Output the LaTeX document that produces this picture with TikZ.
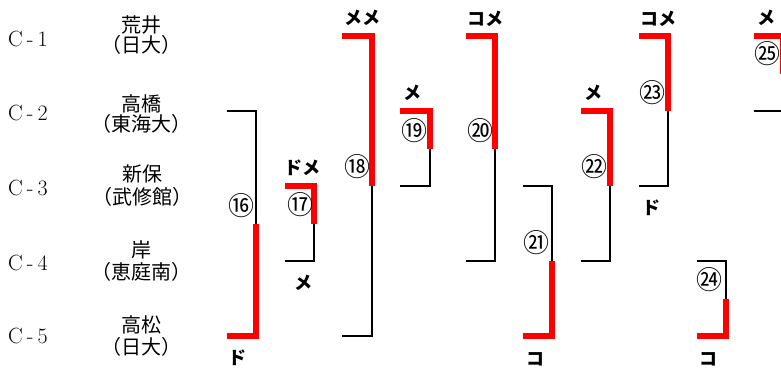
\documentclass[tikz,border=0pt]{standalone}
\usepackage{fontspec}
\newfontfamily\jp{Noto Sans CJK JP}
\newfontfamily\lmr{Latin Modern Roman}
\tikzset{
  win/.style={draw=red, line width=5.5pt, line join=miter, line cap=butt},
  lose/.style={draw=black, line width=1.8pt, line join=miter, line cap=butt},
  pname/.style={inner sep=0pt, font=\jp\fontsize{20}{22}\selectfont},
  clab/.style={inner sep=0pt, anchor=west, font=\lmr\fontsize{22}{24}\selectfont},
  num/.style={inner sep=0pt, font=\jp\fontsize{26}{28}\selectfont},
  tech/.style={inner sep=0pt, font=\jp\bfseries\fontsize{18}{20}\selectfont},
}
\newcommand{\bkt}[5]{%
  \coordinate (#1tl) at (#2,#4);
  \coordinate (#1tr) at (#3,#4);
  \coordinate (#1bl) at (#2,#5);
  \coordinate (#1br) at (#3,#5);
  \coordinate (#1m) at (#3,{(#4+#5)/2});
}
\begin{document}
\begin{tikzpicture}[x=1pt,y=-1pt]
\useasboundingbox (0,0) rectangle (781,368);
\clip (0,0) rectangle (781,368);
% player labels
\node[clab] (c1) at (8,39) {C\kern4pt-\kern4pt1};
\node[clab] (c2) at (8,113) {C\kern4pt-\kern4pt2};
\node[clab] (c3) at (8,188) {C\kern4pt-\kern4pt3};
\node[clab] (c4) at (8,263) {C\kern4pt-\kern4pt4};
\node[clab] (c5) at (8,336) {C\kern4pt-\kern4pt5};
\node[pname] (p1a) at (141,25) {荒井};
\node[pname] (p1b) at (141,45) {（日大）};
\node[pname] (p2a) at (141,104) {高橋};
\node[pname] (p2b) at (141,124) {（東海大）};
\node[pname] (p3a) at (142,174) {新保};
\node[pname] (p3b) at (142,197) {（武修館）};
\node[pname] (p4a) at (141,250) {岸};
\node[pname] (p4b) at (141,272) {（恵庭南）};
\node[pname] (p5a) at (141,325) {高松};
\node[pname] (p5b) at (141,347) {（日大）};
% bracket coordinates
\bkt{b16}{227}{256}{111}{336}
\bkt{b17}{285}{314}{186}{261}
\bkt{b18}{342}{372}{36}{336}
\bkt{b19}{400}{430}{111}{186}
\bkt{b20}{466}{495}{36}{261}
\bkt{b21}{523}{552}{186}{336}
\bkt{b22}{581}{610}{111}{261}
\bkt{b23}{639}{668}{36}{186}
\bkt{b24}{697}{726}{261}{336}
\bkt{b25}{754}{783}{36}{111}
% 16: bottom wins
\draw[lose] (b16tl) -- (b16tr) -- (b16m);
\draw[win] (b16m) -- (b16br) -- (b16bl);
% 17: top wins
\draw[win] (b17tl) -- (b17tr) -- (b17m);
\draw[lose] (b17m) -- (b17br) -- (b17bl);
% 18
\draw[win] (b18tl) -- (b18tr) -- (b18m);
\draw[lose] (b18m) -- (b18br) -- (b18bl);
% 19
\draw[win] (b19tl) -- (b19tr) -- (b19m);
\draw[lose] (b19m) -- (b19br) -- (b19bl);
% 20
\draw[win] (b20tl) -- (b20tr) -- (b20m);
\draw[lose] (b20m) -- (b20br) -- (b20bl);
% 21: bottom wins
\draw[lose] (b21tl) -- (b21tr) -- (b21m);
\draw[win] (b21m) -- (b21br) -- (b21bl);
% 22
\draw[win] (b22tl) -- (b22tr) -- (b22m);
\draw[lose] (b22m) -- (b22br) -- (b22bl);
% 23
\draw[win] (b23tl) -- (b23tr) -- (b23m);
\draw[lose] (b23m) -- (b23br) -- (b23bl);
% 24: bottom wins
\draw[lose] (b24tl) -- (b24tr) -- (b24m);
\draw[win] (b24m) -- (b24br) -- (b24bl);
% 25
\draw[win] (b25tl) -- (b25tr) -- (b25m);
\draw[lose] (b25m) -- (b25br) -- (b25bl);
% bout numbers
\node[num] (n16) at (241,206) {⑯};
\node[num] (n17) at (300,205) {⑰};
\node[num] (n18) at (357,167) {⑱};
\node[num] (n19) at (414,131) {⑲};
\node[num] (n20) at (480,131) {⑳};
\node[num] (n21) at (536,243) {㉑};
\node[num] (n22) at (594,167) {㉒};
\node[num] (n23) at (652,93) {㉓};
\node[num] (n24) at (709,280) {㉔};
\node[num] (n25) at (767,54) {㉕};
% techniques
\node[tech] (t16) at (237,358) {ド};
\node[tech] (t17a) at (302,168) {ドメ};
\node[tech] (t17b) at (303,283) {メ};
\node[tech] (t18) at (362,18) {メメ};
\node[tech] (t19) at (412,93) {メ};
\node[tech] (t20) at (485,19) {コメ};
\node[tech] (t21) at (535,359) {コ};
\node[tech] (t22) at (593,93) {メ};
\node[tech] (t23a) at (658,19) {コメ};
\node[tech] (t23b) at (651,208) {ド};
\node[tech] (t24) at (708,359) {コ};
\node[tech] (t25) at (766,18) {メ};
\end{tikzpicture}
\end{document}
